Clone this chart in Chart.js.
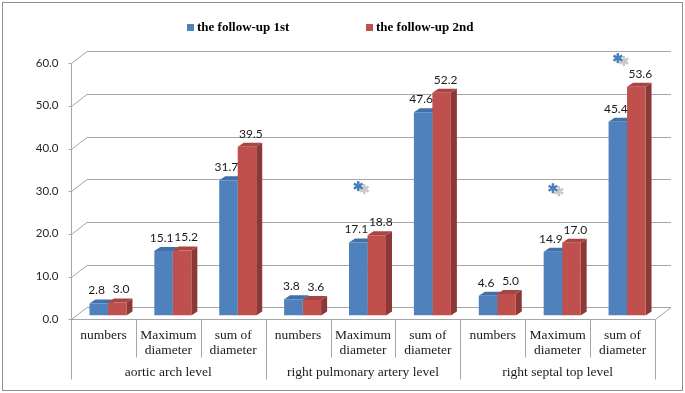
<!DOCTYPE html>
<html>
<head>
<meta charset="utf-8">
<script src="https://cdn.jsdelivr.net/npm/chart.js@4.4.1/dist/chart.umd.min.js"></script>
<style>
  html, body { margin: 0; padding: 0; background: #fff; }
  #wrap { width: 685px; height: 393px; }
</style>
</head>
<body>
<div id="wrap"><canvas id="myChart" width="685" height="393"></canvas></div>
<script>
const groups = ['aortic arch level', 'right pulmonary artery level', 'right septal top level'];
const subLabels = [['numbers'], ['Maximum', 'diameter'], ['sum of', 'diameter']];
const followUp1 = [2.8, 15.1, 31.7, 3.8, 17.1, 47.6, 4.6, 14.9, 45.4];
const followUp2 = [3.0, 15.2, 39.5, 3.6, 18.8, 52.2, 5.0, 17.0, 53.6];
// asterisks (significance) drawn above these categories, at these values
const significance = [null, null, null, null, 30.3, null, null, 29.8, 60.3];
const yTicks = [0, 10, 20, 30, 40, 50, 60];

const categories = [];
groups.forEach(g => subLabels.forEach(s => categories.push(g + ' / ' + s.join(' '))));

// depth offsets relative to the bar plane
const FRONT = { dx: -4.5, dy: 3.6 };
const BACK = { dx: 11.5, dy: -8.4 };
const BAR = { dx: 6, dy: -4 };
const gridColor = '#A6A6A6';

const sides = ['#3A659A', '#8C3836'];
const tops = ['#4270A8', '#A84541'];

function line(ctx, x1, y1, x2, y2) {
    ctx.beginPath();
    ctx.moveTo(x1, y1);
    ctx.lineTo(x2, y2);
    ctx.stroke();
}

function poly(ctx, pts, color) {
    ctx.beginPath();
    ctx.moveTo(pts[0][0], pts[0][1]);
    for (let i = 1; i < pts.length; i++) ctx.lineTo(pts[i][0], pts[i][1]);
    ctx.closePath();
    ctx.fillStyle = color;
    ctx.fill();
}

const threeD = {
    id: 'threeD',
    beforeDraw(chart) {
        const ctx = chart.ctx;
        ctx.save();
        ctx.fillStyle = '#fff';
        ctx.fillRect(0, 0, chart.width, chart.height);
        ctx.strokeStyle = '#8E8E8E';
        ctx.lineWidth = 1;
        ctx.strokeRect(2.5, 2.5, 680, 388);

        // legend
        ctx.font = 'bold 13px "Liberation Serif"';
        ctx.textBaseline = 'middle';
        ctx.textAlign = 'left';
        const leg = [[187, 0], [366, 1]];
        leg.forEach(([lx, i]) => {
            ctx.fillStyle = chart.data.datasets[i].backgroundColor;
            ctx.fillRect(lx, 24, 7, 7);
            ctx.fillStyle = '#000';
            ctx.fillText(chart.data.datasets[i].label, lx + 10, 28);
        });
        ctx.restore();
    },
    beforeDatasetsDraw(chart) {
        const ctx = chart.ctx;
        const area = chart.chartArea;
        const y = chart.scales.y;
        const x = chart.scales.x;
        const fl = Math.round(area.left + FRONT.dx) + 0.5;
        const fr = Math.round(area.right + FRONT.dx) + 0.5;
        ctx.save();
        ctx.lineWidth = 1;
        ctx.strokeStyle = gridColor;

        // back wall gridlines + diagonal ticks
        yTicks.forEach(v => {
            const py = Math.round(y.getPixelForValue(v)) + 0.5;
            const fy = py + FRONT.dy;
            const by = Math.round(py + BACK.dy) + 0.5;
            line(ctx, area.left + BACK.dx, by, area.right + BACK.dx, by);
            line(ctx, fl, Math.round(fy) + 0.5, area.left + BACK.dx, by);
            line(ctx, fl - 3, Math.round(fy) + 0.5, fl, Math.round(fy) + 0.5);
        });
        // front axis line
        const f0 = Math.round(y.getPixelForValue(0) + FRONT.dy) + 0.5;
        const f60 = Math.round(y.getPixelForValue(60) + FRONT.dy) + 0.5;
        line(ctx, fl, f60, fl, f0);
        // floor front edge and right edge
        line(ctx, fl, f0, fr, f0);
        line(ctx, fr, f0, area.right + BACK.dx, Math.round(y.getPixelForValue(0) + BACK.dy) + 0.5);

        // y tick labels
        ctx.fillStyle = '#262626';
        ctx.font = '11.5px Lato';
        ctx.textAlign = 'right';
        ctx.textBaseline = 'middle';
        yTicks.forEach(v => {
            ctx.fillText(v.toFixed(1), fl - 13, y.getPixelForValue(v) + FRONT.dy);
        });

        // category axis: separators and labels
        const n = chart.data.labels.length;
        const cw = (area.right - area.left) / n;
        ctx.fillStyle = '#1A1A1A';
        ctx.font = '13.5px "Liberation Serif"';
        ctx.textAlign = 'center';
        for (let i = 0; i <= n; i++) {
            const sx = Math.round(area.left + i * cw + FRONT.dx) + 0.5;
            const isGroup = i % subLabels.length === 0;
            line(ctx, sx, f0, sx, isGroup ? f0 + 60 : f0 + 38);
        }
        for (let i = 0; i < n; i++) {
            const cx = x.getPixelForValue(i) + FRONT.dx;
            const lbl = subLabels[i % subLabels.length];
            lbl.forEach((t, k) => ctx.fillText(t, cx, f0 + 16 + k * 15));
        }
        groups.forEach((g, gi) => {
            const cx = area.left + (gi + 0.5) * subLabels.length * cw + FRONT.dx;
            ctx.fillText(g, cx, f0 + 53);
        });

        // bar sides and tops
        chart.data.datasets.forEach((ds, di) => {
            chart.getDatasetMeta(di).data.forEach(bar => {
                const p = bar.getProps(['x', 'y', 'base', 'width'], true);
                const l = p.x - p.width / 2, r = p.x + p.width / 2;
                poly(ctx, [[r, p.y], [r + BAR.dx, p.y + BAR.dy], [r + BAR.dx, p.base + BAR.dy], [r, p.base]], sides[di]);
                poly(ctx, [[l, p.y], [r, p.y], [r + BAR.dx, p.y + BAR.dy], [l + BAR.dx, p.y + BAR.dy]], tops[di]);
            });
        });
        ctx.restore();
    },
    afterDatasetsDraw(chart) {
        const ctx = chart.ctx;
        const y = chart.scales.y;
        ctx.save();
        ctx.font = '12px Lato';
        ctx.fillStyle = '#1A1A1A';
        ctx.textAlign = 'center';
        ctx.textBaseline = 'middle';
        const shift = [-2, 4];
        chart.data.datasets.forEach((ds, di) => {
            chart.getDatasetMeta(di).data.forEach((bar, i) => {
                const p = bar.getProps(['x', 'y'], true);
                ctx.fillText(ds.data[i].toFixed(1), p.x + shift[di], p.y - 13);
            });
        });

        // significance asterisks
        const meta = chart.getDatasetMeta(0);
        significance.forEach((v, i) => {
            if (v === null) return;
            const bx = meta.data[i].x;
            const by = y.getPixelForValue(v);
            [[bx + 6, by + 3, '#C8C8C8'], [bx, by, '#4A7EBB']].forEach(([ax, ay, col]) => {
                ctx.strokeStyle = col;
                ctx.lineWidth = 2.5;
                for (let k = 0; k < 3; k++) {
                    const a = Math.PI / 2 + k * Math.PI / 3;
                    line(ctx, ax - Math.cos(a) * 5, ay - Math.sin(a) * 5, ax + Math.cos(a) * 5, ay + Math.sin(a) * 5);
                }
            });
        });
        ctx.restore();
    }
};

const ctx = document.getElementById('myChart').getContext('2d');
const myChart = new Chart(ctx, {
    type: 'bar',
    data: {
        labels: categories,
        datasets: [
            { label: 'the follow-up 1st', data: followUp1, backgroundColor: '#4F81BD', borderWidth: 0 },
            { label: 'the follow-up 2nd', data: followUp2, backgroundColor: '#C0504D', borderWidth: 0 }
        ]
    },
    options: {
        responsive: false,
        animation: false,
        devicePixelRatio: 1,
        layout: {
            padding: { left: 75.5, right: 25.5, top: 59.4, bottom: 77.6 }
        },
        datasets: {
            bar: { categoryPercentage: 0.57, barPercentage: 1.0 }
        },
        scales: {
            x: { display: false },
            y: { display: false, min: 0, max: 60 }
        },
        plugins: {
            legend: { display: false },
            tooltip: { enabled: false }
        }
    },
    plugins: [threeD]
});
</script>
</body>
</html>
